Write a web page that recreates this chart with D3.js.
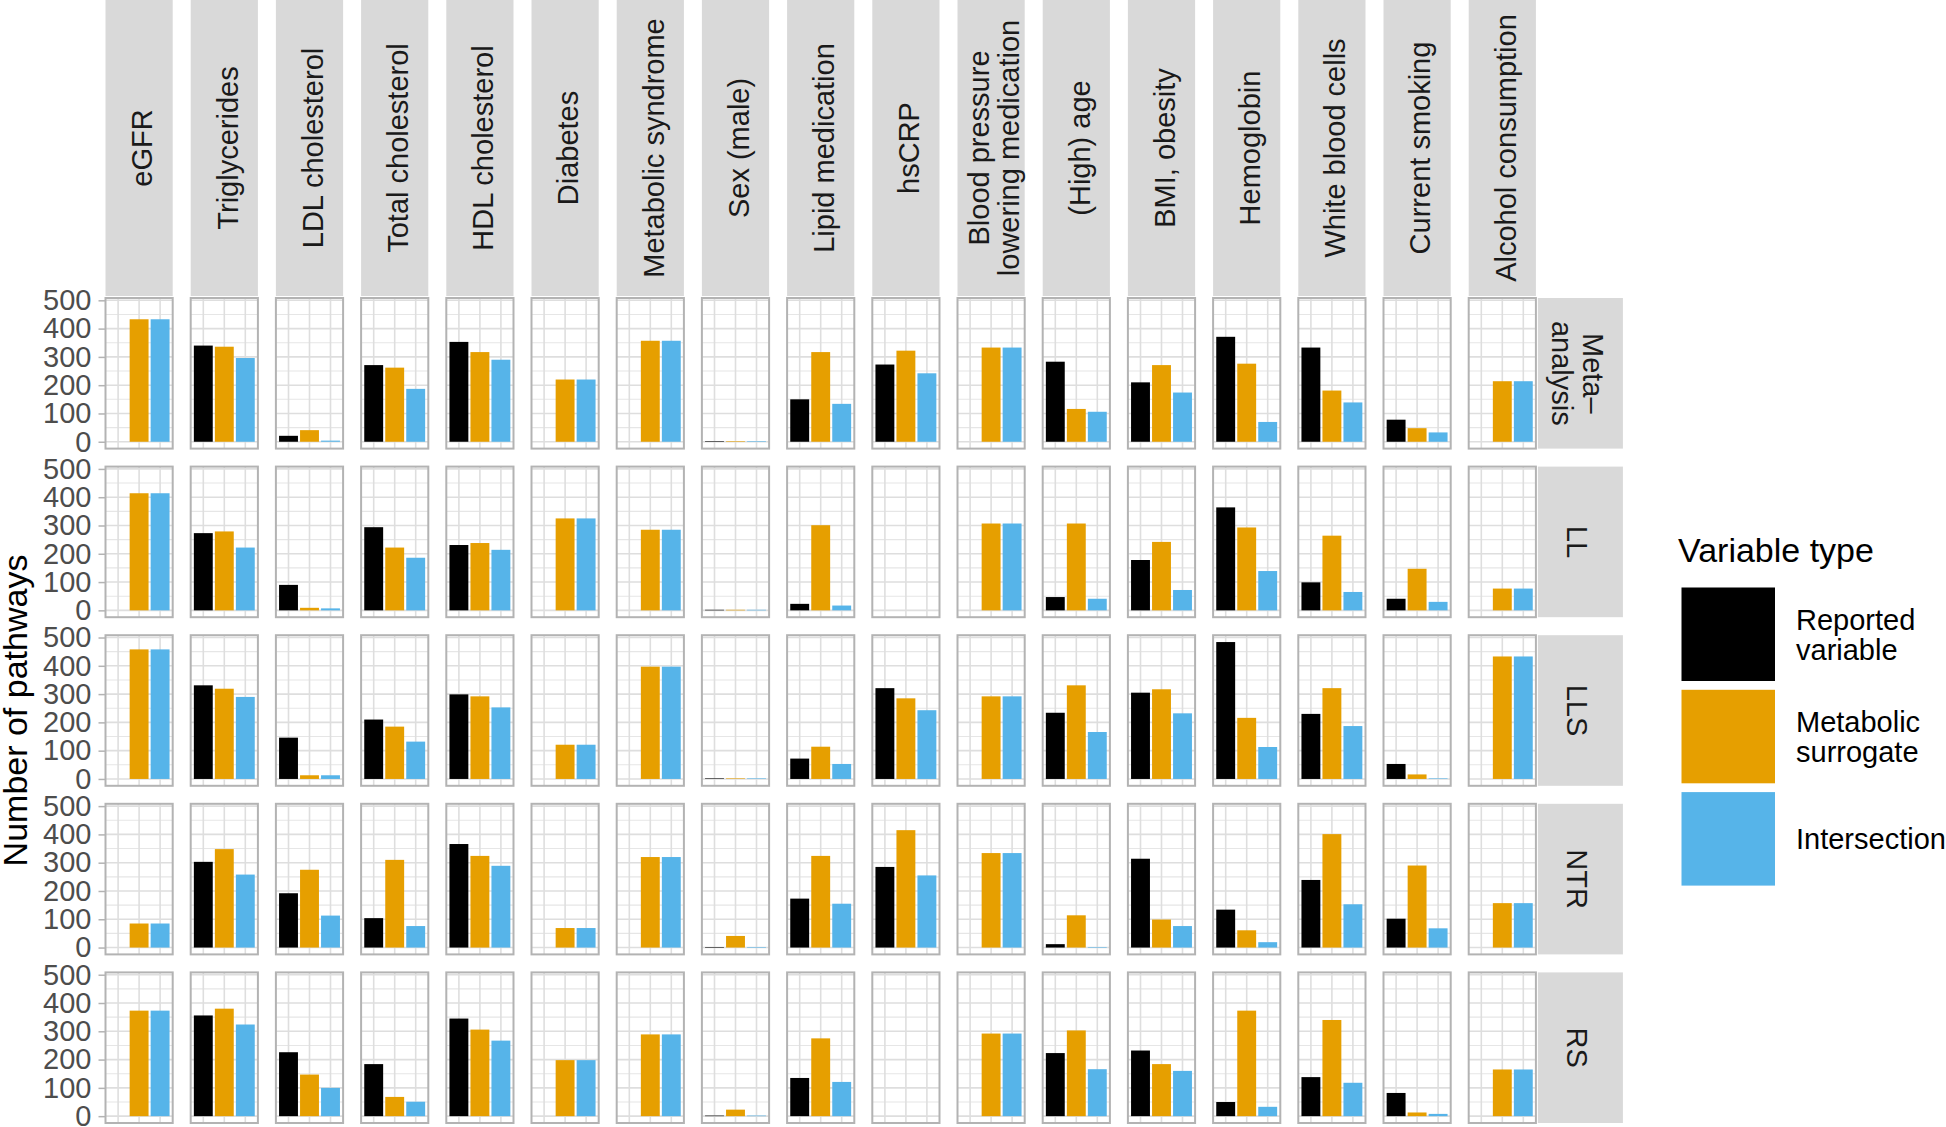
<!DOCTYPE html>
<html><head><meta charset="utf-8">
<script src="https://cdn.jsdelivr.net/npm/d3@7"></script>
<style>
body{margin:0;background:#fff;}
svg{display:block;font-family:"Liberation Sans",Arial,Helvetica,sans-serif;}
</style>
</head><body>
<svg id="chart" width="1946" height="1127"></svg>
<script>
// ---------- data ----------
const variables = ["eGFR","Triglycerides","LDL cholesterol","Total cholesterol","HDL cholesterol","Diabetes","Metabolic syndrome","Sex (male)","Lipid medication","hsCRP","Blood pressure lowering medication","(High) age","BMI, obesity","Hemoglobin","White blood cells","Current smoking","Alcohol consumption"];
const variableLabels = [["eGFR"],["Triglycerides"],["LDL cholesterol"],["Total cholesterol"],["HDL cholesterol"],["Diabetes"],["Metabolic syndrome"],["Sex (male)"],["Lipid medication"],["hsCRP"],["Blood pressure","lowering medication"],["(High) age"],["BMI, obesity"],["Hemoglobin"],["White blood cells"],["Current smoking"],["Alcohol consumption"]];
const cohorts = ["Meta–analysis","LL","LLS","NTR","RS"];
const cohortLabels = [["Meta–","analysis"],["LL"],["LLS"],["NTR"],["RS"]];
const types = ["Reported variable","Metabolic surrogate","Intersection"];
const typeLabels = [["Reported","variable"],["Metabolic","surrogate"],["Intersection"]];
const typeColors = ["#000000","#E69F00","#56B4E9"];
const yTicks = [0,100,200,300,400,500];
const yMinorTicks = [50,150,250,350,450];

// values per cohort, in the order of `variables` (null = not present)
const metaReported     = [null,340,21,271,353,null,null,2,150,273,null,283,210,371,333,78,null];
const metaSurrogate    = [433,336,41,262,317,220,357,2,317,322,333,116,271,276,181,48,214];
const metaIntersection = [433,296,4,187,290,220,357,2,134,242,333,106,174,70,139,33,214];

const llReported       = [null,273,90,294,231,null,null,2,23,null,null,47,178,364,99,41,null];
const llSurrogate      = [414,279,9,222,238,325,285,2,301,null,307,307,242,293,264,147,77];
const llIntersection   = [414,222,7,186,214,325,285,2,17,null,307,41,72,139,65,30,77];

const llsReported      = [null,331,146,210,299,null,null,2,72,321,null,234,305,484,230,53,null];
const llsSurrogate     = [458,319,13,185,292,121,397,2,114,285,292,331,317,216,321,16,433];
const llsIntersection  = [458,290,13,132,253,121,397,2,53,243,292,166,232,113,187,2,433];

const ntrReported      = [null,303,192,104,366,null,null,2,173,285,null,12,314,134,239,102,null];
const ntrSurrogate     = [85,348,275,310,324,69,320,41,324,415,334,114,99,61,401,290,157];
const ntrIntersection  = [85,258,113,76,289,69,320,2,155,255,334,2,76,19,153,68,157];

const rsReported       = [null,356,226,184,345,null,null,2,135,null,null,223,232,50,138,82,null];
const rsSurrogate      = [373,380,147,68,306,198,289,23,275,null,292,303,184,373,340,13,165];
const rsIntersection   = [373,324,100,51,267,198,289,2,121,null,292,166,160,33,118,8,165];

const cohortValues = [
  [metaReported, metaSurrogate, metaIntersection],
  [llReported, llSurrogate, llIntersection],
  [llsReported, llsSurrogate, llsIntersection],
  [ntrReported, ntrSurrogate, ntrIntersection],
  [rsReported, rsSurrogate, rsIntersection]
];

// ---------- layout ----------
const svg = d3.select("#chart");
const panelLeft0 = 105.5, panelW = 67.2, gapX = 18.0;
const panelTop0 = 298, panelH = 150.6, gapY = 18.0;
const stripTop = 0, stripBottom = 296;
const rStripX0 = panelLeft0 + 17*panelW + 16*gapX + 2, rStripW = 85;
const font = 29;

const allVals = cohortValues.flat(2).filter(v => v != null);
const maxV = d3.max(allVals);
const y = d3.scaleLinear().domain([-0.05*maxV, 1.05*maxV]).range([panelH, 0]);
const x = d3.scaleBand().domain(types).range([0, panelW]).paddingInner(0.1).paddingOuter(0.15);

const gridMajor = "#DEDEDE", gridMinor = "#E6E6E6", borderCol = "#B3B3B3";

// top strips
variables.forEach((v, c) => {
  const px = panelLeft0 + c*(panelW+gapX);
  svg.append("rect").attr("x", px).attr("y", stripTop).attr("width", panelW)
    .attr("height", stripBottom - stripTop).attr("fill", "#D9D9D9");
  const lines = variableLabels[c];
  const g = svg.append("g").attr("transform", `translate(${px + panelW/2},${(stripTop+stripBottom)/2}) rotate(-90)`);
  const lh = 30;
  const base = font*0.716/2 + 3;
  lines.forEach((t, i) => {
    g.append("text").attr("x", 0).attr("y", base + (i - (lines.length-1)/2)*lh)
      .attr("text-anchor", "middle").attr("font-size", font).attr("fill", "#1A1A1A").text(t);
  });
});

// panels
cohorts.forEach((co, r) => {
  const py = panelTop0 + r*(panelH+gapY);
  // right strip
  svg.append("rect").attr("x", rStripX0).attr("y", py).attr("width", rStripW).attr("height", panelH).attr("fill", "#D9D9D9");
  const lines = cohortLabels[r];
  const gs = svg.append("g").attr("transform", `translate(${rStripX0 + rStripW/2},${py + panelH/2}) rotate(90)`);
  const base = font*0.716/2 + 3;
  lines.forEach((t, i) => {
    gs.append("text").attr("x", 0).attr("y", base + (i - (lines.length-1)/2)*31)
      .attr("text-anchor", "middle").attr("font-size", font).attr("fill", "#1A1A1A").text(t);
  });

  // y axis
  const ax = svg.append("g").attr("transform", `translate(${panelLeft0},${py})`)
    .call(d3.axisLeft(y).tickValues(yTicks).tickSize(7).tickPadding(7));
  ax.select(".domain").remove();
  ax.selectAll(".tick line").attr("stroke", borderCol).attr("stroke-width", 1.5);
  ax.selectAll(".tick text").attr("fill", "#4D4D4D").attr("font-size", font)
    .attr("font-family", '"Liberation Sans",Arial,Helvetica,sans-serif');

  variables.forEach((v, c) => {
    const px = panelLeft0 + c*(panelW+gapX);
    const g = svg.append("g").attr("transform", `translate(${px},${py})`);
    g.append("rect").attr("width", panelW).attr("height", panelH).attr("fill", "#fff");
    g.selectAll(".minor").data(yMinorTicks).join("line")
      .attr("x1", 0).attr("x2", panelW).attr("y1", d => y(d)).attr("y2", d => y(d))
      .attr("stroke", gridMinor).attr("stroke-width", 1.1);
    g.selectAll(".major").data(yTicks).join("line")
      .attr("x1", 0).attr("x2", panelW).attr("y1", d => y(d)).attr("y2", d => y(d))
      .attr("stroke", gridMajor).attr("stroke-width", 1.6);
    g.selectAll(".vmajor").data(types).join("line")
      .attr("x1", d => x(d) + x.bandwidth()/2).attr("x2", d => x(d) + x.bandwidth()/2)
      .attr("y1", 0).attr("y2", panelH)
      .attr("stroke", gridMajor).attr("stroke-width", 1.6);
    const bars = types.map((t, k) => ({t, k, v: cohortValues[r][k][c]})).filter(d => d.v != null);
    g.selectAll(".bar").data(bars).join("rect")
      .attr("x", d => x(d.t)).attr("width", x.bandwidth())
      .attr("y", d => y(d.v)).attr("height", d => y(0) - y(d.v))
      .attr("fill", d => typeColors[d.k]);
    g.append("rect").attr("x", 0).attr("y", 0).attr("width", panelW).attr("height", panelH)
      .attr("fill", "none").attr("stroke", borderCol).attr("stroke-width", 2);
  });
});

// y axis title
svg.append("text").attr("transform", `translate(27,${panelTop0 + (5*panelH + 4*gapY)/2}) rotate(-90)`)
  .attr("text-anchor", "middle").attr("font-size", 34).attr("fill", "#000").text("Number of pathways");

// legend
const lg = svg.append("g");
lg.append("text").attr("x", 1678).attr("y", 562).attr("font-size", 34).attr("fill", "#000").text("Variable type");
const keyX = 1681.5, keyS = 93.5, keyY0 = 587.5, keyStep = 102.3;
types.forEach((t, k) => {
  const ky = keyY0 + k*keyStep;
  lg.append("rect").attr("x", keyX).attr("y", ky).attr("width", keyS).attr("height", keyS).attr("fill", typeColors[k]);
  const lines = typeLabels[k];
  lines.forEach((s, i) => {
    lg.append("text").attr("x", 1796).attr("y", ky + keyS/2 + font*0.716/2 + (i - (lines.length-1)/2)*30)
      .attr("font-size", font).attr("fill", "#000").text(s);
  });
});
</script>
</body></html>
